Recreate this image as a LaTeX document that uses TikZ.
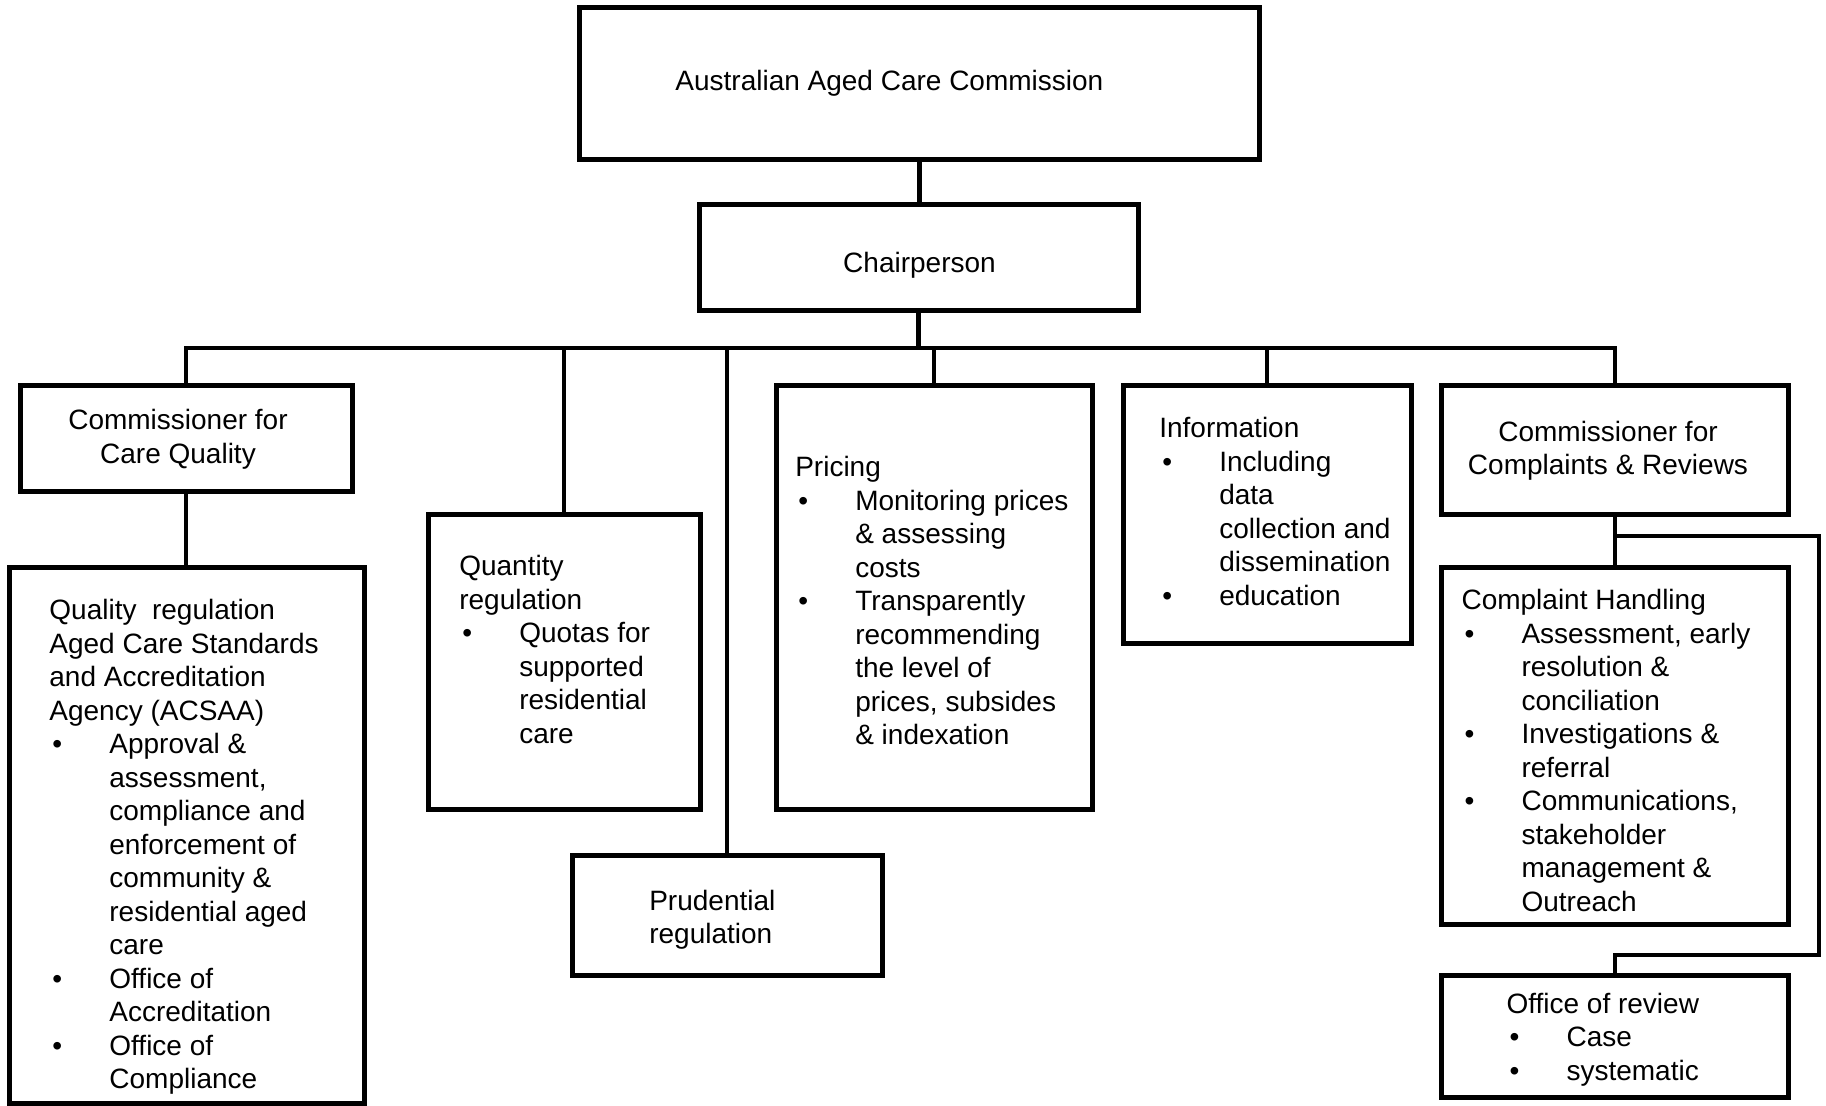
\documentclass[tikz,border=0pt]{standalone}
\usepackage{fontspec}
\setmainfont{Liberation Sans}
\usepackage{tikz}
\usetikzlibrary{positioning}
\newcommand{\bul}{\makebox[30pt][l]{\hspace{1.5pt}\textbullet}}
\newcommand{\ind}{\hspace*{30pt}}

\begin{document}
\begin{tikzpicture}[
    x=0.5pt, y=-0.5pt,
    box/.style={rectangle, draw=black, line width=2.5pt, inner sep=0pt},
    txt/.style={align=left, inner sep=0pt, font=\fontsize{14pt}{16.75pt}\selectfont},
    conn/.style={draw=black, line width=2.3pt, line cap=rect},
  ]
  \useasboundingbox (0,0) rectangle (1826,1105);

  % top of the tree
  \node[box, minimum width=340pt, minimum height=75.75pt] (acc) at (919.5,83.25) {};
  \node[txt, right=49pt of acc.west] (acc-t) {Australian Aged Care Commission};
  \node[box, minimum width=219.5pt, minimum height=53pt] (chair) at (918.5,257) {};
  \node[txt, xshift=0.5pt, yshift=-4pt] (chair-t) at (chair) {Chairperson};

  % second level
  \node[box, minimum width=166pt, minimum height=53pt] (cq) at (186,438) {};
  \node[txt, align=center, xshift=-4pt, yshift=-0.6pt] (cq-t) at (cq) {Commissioner for\\Care Quality};
  \node[box, minimum width=136pt, minimum height=147.5pt] (quant) at (564,661.5) {};
  \node[txt, right=16.7pt of quant.west, yshift=6pt] (quant-t) {Quantity\\
    regulation\\
    \bul Quotas for\\
    \ind supported\\
    \ind residential\\
    \ind care};
  \node[box, minimum width=155pt, minimum height=60pt] (prud) at (727,915) {};
  \node[txt, right=39.7pt of prud.west, yshift=-2.3pt] (prud-t) {Prudential\\regulation};
  \node[box, minimum width=158pt, minimum height=212pt] (pricing) at (934,597) {};
  \node[txt, right=10.7pt of pricing.west, yshift=-1.75pt] (pricing-t) {Pricing\\
    \bul Monitoring prices\\
    \ind \& assessing\\
    \ind costs\\
    \bul Transparently\\
    \ind recommending\\
    \ind the level of\\
    \ind prices, subsides\\
    \ind \& indexation};
  \node[box, minimum width=144pt, minimum height=129pt] (info) at (1267,514) {};
  \node[txt, right=19.2pt of info.west, yshift=1.2pt] (info-t) {Information\\
    \bul Including\\
    \ind data\\
    \ind collection and\\
    \ind dissemination\\
    \bul education};
  \node[box, minimum width=173.75pt, minimum height=64.5pt] (cr) at (1615,449.5) {};
  \node[txt, align=center, xshift=-3.5pt, yshift=-0.6pt] (cr-t) at (cr) {Commissioner for\\Complaints \& Reviews};

  % under the commissioners
  \node[box, minimum width=177.5pt, minimum height=268pt] (acsaa) at (187,835) {};
  \node[txt, right=21pt of acsaa.west, yshift=-6.1pt] (acsaa-t) {Quality\ \ regulation\\
    Aged Care Standards\\
    and Accreditation\\
    Agency (ACSAA)\\
    \bul Approval \&\\
    \ind assessment,\\
    \ind compliance and\\
    \ind enforcement of\\
    \ind community \&\\
    \ind residential aged\\
    \ind care\\
    \bul Office of\\
    \ind Accreditation\\
    \bul Office of\\
    \ind Compliance};
  \node[box, minimum width=173.75pt, minimum height=178.25pt] (ch) at (1615,745.75) {};
  \node[txt, right=11.2pt of ch.west, yshift=-2.3pt] (ch-t) {Complaint Handling\\
    \bul Assessment, early\\
    \ind resolution \&\\
    \ind conciliation\\
    \bul Investigations \&\\
    \ind referral\\
    \bul Communications,\\
    \ind stakeholder\\
    \ind management \&\\
    \ind Outreach};
  \node[box, minimum width=173.75pt, minimum height=61pt] (orev) at (1615,1036) {};
  \node[txt, right=33.7pt of orev.west, yshift=-1.75pt] (orev-t) {Office of review\\
    \bul Case\\
    \bul systematic};

  % connectors
  \coordinate (bus) at (0,348);
  \draw[conn] (acc.south) -- (acc.south |- chair.north);
  \draw[conn] (chair.south) -- (chair.south |- bus);
  \draw[conn] (cq.north |- bus) -- (cr.north |- bus);
  \foreach \n in {cq,quant,prud,pricing,info,cr}
    \draw[conn] (\n.north |- bus) -- (\n.north);
  \draw[conn] (cq.south) -- (cq.south |- acsaa.north);
  \draw[conn] (cr.south) -- (ch.north);

  % loop round to the office of review
  \coordinate (loopne) at (1819,536);
  \coordinate (loopse) at (1819,955);
  \draw[conn, line join=miter] (cr.south |- loopne) -- (loopne) -- (loopse) -| (orev.north);
\end{tikzpicture}
\end{document}
